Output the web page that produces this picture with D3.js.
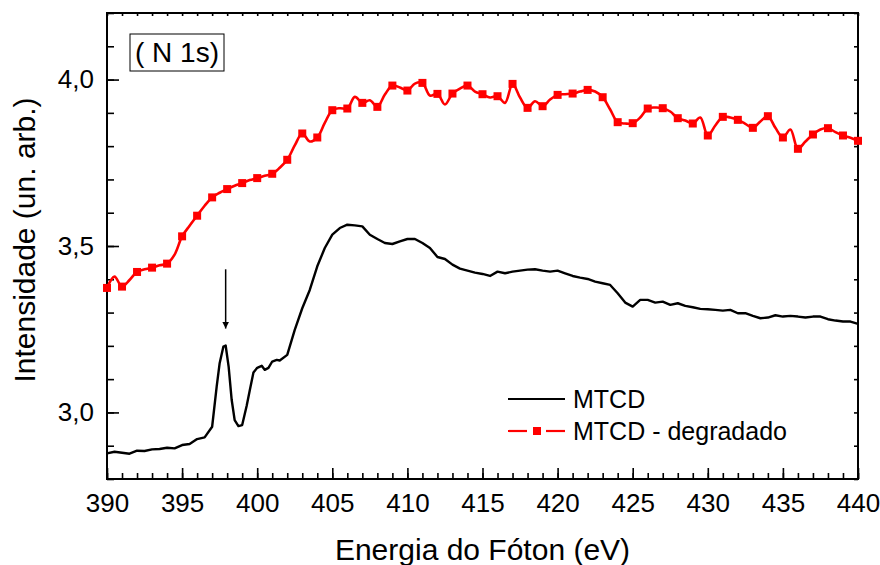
<!DOCTYPE html>
<html>
<head>
<meta charset="utf-8">
<script src="https://cdn.jsdelivr.net/npm/d3@7"></script>
<style>
  html, body { margin: 0; padding: 0; background: #fff; }
  svg { display: block; font-family: "Liberation Sans", Arial, sans-serif; }
</style>
</head>
<body>
<svg id="chart" width="880" height="565"></svg>
<script>
// ---- data -------------------------------------------------------------
// Photon energy axis ticks (eV) and intensity ticks (arb. units)
const xMajorTicks = [390, 395, 400, 405, 410, 415, 420, 425, 430, 435, 440];
const yMajorTicks = [3.0, 3.5, 4.0];

// MTCD spectrum (black line)
const mtcdE = [390, 390.5, 391, 391.5, 392, 392.5, 393, 393.5, 394, 394.5, 395, 395.5, 396, 396.5,
  397, 397.3, 397.5, 397.75, 397.9, 398.1, 398.3, 398.5, 398.75, 399, 399.3, 399.5, 399.75,
  400, 400.3, 400.5, 400.75, 401, 401.3, 401.5, 402, 402.5, 403, 403.5, 404, 404.5, 405, 405.5,
  406, 406.5, 407, 407.5, 408, 408.5, 409, 409.5, 410, 410.5, 411, 411.5, 412, 412.5, 413, 413.5,
  414, 414.5, 415, 415.5, 416, 416.5, 417, 417.5, 418, 418.5, 419, 419.5, 420, 420.5, 421, 421.5,
  422, 422.5, 423, 423.5, 424, 424.5, 425, 425.5, 426, 426.5, 427, 427.5, 428, 428.5, 429, 429.5,
  430, 430.5, 431, 431.5, 432, 432.5, 433, 433.5, 434, 434.5, 435, 435.5, 436, 436.5, 437, 437.5,
  438, 438.5, 439, 439.5, 440];
const mtcdI = [2.877, 2.882, 2.879, 2.876, 2.885, 2.884, 2.889, 2.890, 2.894, 2.892, 2.902, 2.905, 2.920, 2.925,
  2.957, 3.077, 3.148, 3.198, 3.201, 3.137, 3.038, 2.977, 2.959, 2.962, 3.020, 3.065, 3.120,
  3.134, 3.140, 3.128, 3.134, 3.153, 3.158, 3.156, 3.173, 3.248, 3.313, 3.368, 3.439, 3.494, 3.534, 3.554,
  3.564, 3.562, 3.559, 3.534, 3.521, 3.509, 3.506, 3.514, 3.521, 3.521, 3.509, 3.494, 3.467, 3.461, 3.444, 3.432,
  3.426, 3.420, 3.416, 3.410, 3.423, 3.418, 3.423, 3.426, 3.429, 3.430, 3.426, 3.423, 3.426, 3.418, 3.410, 3.405,
  3.401, 3.393, 3.388, 3.383, 3.358, 3.330, 3.318, 3.338, 3.338, 3.330, 3.333, 3.323, 3.328, 3.320, 3.316, 3.311,
  3.310, 3.308, 3.306, 3.308, 3.298, 3.298, 3.290, 3.283, 3.285, 3.292, 3.288, 3.290, 3.288, 3.285, 3.288, 3.288,
  3.280, 3.276, 3.273, 3.273, 3.266];

// MTCD - degradado: measured points (square symbols, every 1 eV)
const degE = [390, 391, 392, 393, 394, 395, 396, 397, 398, 399, 400, 401, 402, 403, 404, 405, 406, 407, 408, 409,
  410, 411, 412, 413, 414, 415, 416, 417, 418, 419, 420, 421, 422, 423, 424, 425, 426, 427, 428, 429,
  430, 431, 432, 433, 434, 435, 436, 437, 438, 439, 440];
const degI = [3.374, 3.378, 3.422, 3.435, 3.447, 3.529, 3.591, 3.646, 3.671, 3.689, 3.704, 3.717, 3.759, 3.838, 3.826,
  3.908, 3.913, 3.930, 3.918, 3.982, 3.967, 3.990, 3.957, 3.958, 3.982, 3.956, 3.950, 3.987, 3.915, 3.920,
  3.954, 3.958, 3.969, 3.947, 3.872, 3.869, 3.913, 3.914, 3.884, 3.868, 3.832, 3.888, 3.879, 3.855, 3.890,
  3.826, 3.792, 3.835, 3.854, 3.832, 3.816];
// intermediate points of the smoothed degradado trace (half-eV positions)
const degMidE = [390.5, 391.5, 392.5, 393.5, 394.5, 395.5, 396.5, 397.5, 398.5, 399.5, 400.5, 401.5, 402.5, 403.5,
  404.5, 405.5, 406.5, 407.5, 408.5, 409.5, 410.5, 411.5, 412.5, 413.5, 414.5, 415.5, 416.5, 417.5, 418.5,
  419.5, 420.5, 421.5, 422.5, 423.5, 424.5, 425.5, 426.5, 427.5, 428.5, 429.5, 430.5, 431.5, 432.5, 433.5,
  434.5, 435.5, 436.5, 437.5, 438.5, 439.5];
const degMidI = [3.408, 3.398, 3.430, 3.442, 3.474, 3.561, 3.621, 3.660, 3.681, 3.698, 3.711, 3.735, 3.802, 3.814,
  3.870, 3.914, 3.948, 3.938, 3.955, 3.976, 3.988, 3.952, 3.925, 3.973, 3.964, 3.946, 3.930, 3.946, 3.935,
  3.940, 3.956, 3.964, 3.964, 3.910, 3.868, 3.886, 3.916, 3.904, 3.877, 3.886, 3.862, 3.886, 3.867, 3.874,
  3.855, 3.850, 3.814, 3.850, 3.842, 3.825];

// annotation arrow pointing at the pre-edge peak: [energy, from intensity, to intensity]
const arrowE = 397.9;
const arrowFrom = 3.43;
const arrowTo = 3.252;

const legendLabels = ["MTCD", "MTCD - degradado"];
const panelLabel = "( N 1s)";

// ---- layout -----------------------------------------------------------
const svg = d3.select("#chart");
const margin = { left: 107, top: 13, right: 22, bottom: 86 };
const W = 880, H = 565;
const iw = W - margin.left - margin.right;   // 751
const ih = H - margin.top - margin.bottom;   // 466

const x = d3.scaleLinear().domain([390, 440]).range([margin.left, margin.left + iw]);
const y = d3.scaleLinear().domain([2.8, 4.2]).range([margin.top + ih, margin.top]);

const fmt = d => d3.format(".1f")(d).replace(".", ",");
const minorX = d3.range(390, 440.001, 1);
const minorY = d3.range(2.8, 4.2001, 0.1).map(v => +v.toFixed(2));

// bottom axis: major and minor ticks pointing inward
const gx = svg.append("g").attr("transform", `translate(0,${margin.top + ih})`);
gx.call(d3.axisBottom(x).tickValues(minorX).tickSize(-6).tickFormat(""));
gx.call(g => g.select(".domain").remove());
const gx2 = svg.append("g").attr("transform", `translate(0,${margin.top + ih})`)
  .call(d3.axisBottom(x).tickValues(xMajorTicks).tickSize(-11).tickPadding(0).tickFormat(d3.format("d")));
gx2.select(".domain").remove();
gx2.selectAll("text").attr("font-size", 26).attr("font-family", "Liberation Sans, Arial, sans-serif")
  .attr("fill", "#000").attr("y", 15).attr("dy", "0.71em");

// left axis
const gy = svg.append("g").attr("transform", `translate(${margin.left},0)`)
  .call(d3.axisLeft(y).tickValues(minorY).tickSize(-7).tickFormat(""));
gy.select(".domain").remove();
const gy2 = svg.append("g").attr("transform", `translate(${margin.left},0)`)
  .call(d3.axisLeft(y).tickValues(yMajorTicks).tickSize(-12).tickFormat(fmt));
gy2.select(".domain").remove();
gy2.selectAll("text").attr("font-size", 26).attr("font-family", "Liberation Sans, Arial, sans-serif")
  .attr("fill", "#000").attr("x", -13);

// top and right axes: short inward ticks, no labels
const gt = svg.append("g").attr("transform", `translate(0,${margin.top})`)
  .call(d3.axisTop(x).tickValues(minorX).tickSize(-3).tickFormat(""));
gt.select(".domain").remove();
const gr = svg.append("g").attr("transform", `translate(${margin.left + iw},0)`)
  .call(d3.axisRight(y).tickValues(minorY).tickSize(-4).tickFormat(""));
gr.select(".domain").remove();
svg.selectAll(".tick line").attr("stroke", "#000").attr("stroke-width", 1.6);

// frame
svg.append("rect")
  .attr("x", margin.left).attr("y", margin.top).attr("width", iw).attr("height", ih)
  .attr("fill", "none").attr("stroke", "#000").attr("stroke-width", 2);

// ---- series -----------------------------------------------------------
const plot = svg.append("g");

const mtcd = mtcdE.map((e, i) => [e, mtcdI[i]]);
plot.append("path")
  .datum(mtcd)
  .attr("fill", "none").attr("stroke", "#000").attr("stroke-width", 2.4)
  .attr("stroke-linejoin", "round")
  .attr("d", d3.line().x(d => x(d[0])).y(d => y(d[1])).curve(d3.curveLinear));

const degLine = degE.map((e, i) => [e, degI[i]])
  .concat(degMidE.map((e, i) => [e, degMidI[i]]))
  .sort((a, b) => a[0] - b[0]);
plot.append("path")
  .datum(degLine)
  .attr("fill", "none").attr("stroke", "#ff0000").attr("stroke-width", 2.6)
  .attr("stroke-linejoin", "round")
  .attr("d", d3.line().x(d => x(d[0])).y(d => y(d[1])).curve(d3.curveCatmullRom.alpha(0.5)));

const sq = 8;
plot.selectAll("rect.deg")
  .data(degE.map((e, i) => [e, degI[i]]))
  .join("rect")
  .attr("class", "deg")
  .attr("x", d => x(d[0]) - sq / 2).attr("y", d => y(d[1]) - sq / 2)
  .attr("width", sq).attr("height", sq)
  .attr("fill", "#ff0000");

// arrow to the pre-edge peak
svg.append("defs").append("marker")
  .attr("id", "arrowhead").attr("viewBox", "0 0 10 10")
  .attr("refX", 10).attr("refY", 5)
  .attr("markerWidth", 7).attr("markerHeight", 14)
  .attr("markerUnits", "userSpaceOnUse")
  .attr("orient", "auto")
  .append("path").attr("d", "M0,0 L10,5 L0,10 Z").attr("fill", "#000");
svg.append("line")
  .attr("x1", x(arrowE)).attr("x2", x(arrowE))
  .attr("y1", y(arrowFrom)).attr("y2", y(arrowTo))
  .attr("stroke", "#000").attr("stroke-width", 1.5)
  .attr("marker-end", "url(#arrowhead)");

// ---- panel label ------------------------------------------------------
const lbl = svg.append("g");
lbl.append("rect")
  .attr("x", 130).attr("y", 34).attr("width", 94).attr("height", 37)
  .attr("fill", "#fff").attr("stroke", "#000").attr("stroke-width", 1);
lbl.append("text")
  .attr("x", 177).attr("y", 62).attr("text-anchor", "middle")
  .attr("font-size", 28).attr("fill", "#000")
  .attr("xml:space", "preserve")
  .text(panelLabel);

// ---- legend -----------------------------------------------------------
const lg = svg.append("g");
lg.append("line").attr("x1", 508).attr("x2", 565).attr("y1", 399).attr("y2", 399)
  .attr("stroke", "#000").attr("stroke-width", 2.2);
lg.append("line").attr("x1", 508).attr("x2", 527).attr("y1", 431).attr("y2", 431)
  .attr("stroke", "#ff0000").attr("stroke-width", 2.2);
lg.append("line").attr("x1", 546).attr("x2", 565).attr("y1", 431).attr("y2", 431)
  .attr("stroke", "#ff0000").attr("stroke-width", 2.2);
lg.append("rect").attr("x", 533).attr("y", 427).attr("width", 8).attr("height", 8).attr("fill", "#ff0000");
lg.selectAll("text").data(legendLabels).join("text")
  .attr("x", 573).attr("y", (d, i) => 399 + i * 32).attr("dy", "0.35em")
  .attr("font-size", 25).attr("fill", "#000")
  .text(d => d);

// ---- axis titles ------------------------------------------------------
svg.append("text")
  .attr("x", margin.left + iw / 2).attr("y", 560).attr("text-anchor", "middle")
  .attr("font-size", 30).attr("fill", "#000")
  .text("Energia do Fóton (eV)");
svg.append("text")
  .attr("transform", `translate(35,${margin.top + ih / 2 - 6}) rotate(-90)`)
  .attr("text-anchor", "middle")
  .attr("font-size", 30).attr("fill", "#000")
  .text("Intensidade (un. arb.)");
</script>
</body>
</html>
